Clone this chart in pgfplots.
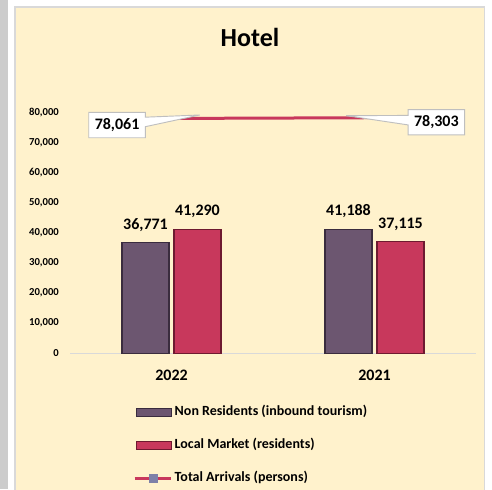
\documentclass[border=0pt]{standalone}
\usepackage{fontspec}
\setmainfont{Carlito}
\usepackage{pgfplots}
\usepackage{pgfplotstable}
\pgfplotsset{compat=1.18}
\usetikzlibrary{shapes.callouts}
\definecolor{bg}{HTML}{FFF2CC}
\definecolor{nonres}{HTML}{6C5670}
\definecolor{nonresd}{HTML}{3A2C3E}
\definecolor{local}{HTML}{C8385C}
\definecolor{locald}{HTML}{6E1A30}
\definecolor{frame}{HTML}{D9D9D9}
\definecolor{boxframe}{HTML}{BFBFBF}
\definecolor{stripgray}{HTML}{CCCCCC}
\definecolor{markc}{HTML}{7E80A8}

\pgfplotstableread{
x y
0 36771
1 41188
}\nonrestab
\pgfplotstableread{
x y
0 41290
1 37115
}\localtab
\pgfplotstableread{
x y dx dy ndx ndy
0 78061 -40.8 -5.0 40.8 5.0
1 78303 46.4 -3.4 -46.4 3.4
}\totaltab

\begin{document}
\begin{tikzpicture}
\useasboundingbox (0,0) rectangle (369pt,366.75pt);
\fill[white] (0,0) rectangle (369pt,366.75pt);
\fill[stripgray] (0,0) rectangle (6pt,366.75pt);
\filldraw[fill=bg, draw=frame, line width=1.1pt] (11.25pt,-3pt) rectangle (363.4pt,361.5pt);
\node[font=\bfseries\fontsize{19.5}{23}\selectfont] at (187.5pt,339pt) {Hotel};
\begin{axis}[
  at={(52.5pt,101.8pt)}, anchor=south west,
  width=304.5pt, height=180.5pt, scale only axis,
  xmin=-0.5, xmax=1.5, ymin=0, ymax=80000,
  axis x line*=bottom, axis y line*=left,
  x axis line style={draw=frame, line width=0.8pt, -},
  y axis line style={draw=none, -},
  xtick={0,1}, xticklabels={2022,2021},
  ytick={0,10000,...,80000},
  major tick length=0pt,
  xticklabel style={font=\bfseries\fontsize{12}{14}\selectfont, anchor=center, yshift=-16.3pt},
  yticklabel style={font=\bfseries\fontsize{8}{10}\selectfont, anchor=east, xshift=-4.8pt},
  /pgf/number format/1000 sep={,},
  /pgf/number format/assume math mode=true,
  scaled y ticks=false,
  clip=false,
  legend style={at={(axis description cs:0.1552,-0.382)}, anchor=west, draw=none, fill=none,
    inner sep=0pt, row sep=14.2pt,
    font=\bfseries\fontsize{10.5}{12}\selectfont,
    nodes={inner xsep=1.4pt, inner ysep=0pt, text height=8pt, text depth=2.5pt}},
  legend cell align=left,
]
\addplot[ybar, bar width=35.25pt, bar shift=-19.5pt, fill=nonres, draw=nonresd, line width=0.8pt,
  nodes near coords,
  every node near coord/.append style={font=\bfseries\fontsize{12}{14}\selectfont, anchor=south, inner sep=0pt, xshift=-19.5pt, yshift=8pt, text=black},
  legend image code/.code={\draw[fill=nonres, draw=nonresd, line width=0.6pt] (0pt,-2.8pt) rectangle (26.25pt,2.8pt);}
] table {\nonrestab};
\addlegendentry{Non Residents (inbound tourism)}
\addplot[ybar, bar width=35.25pt, bar shift=19.5pt, fill=local, draw=locald, line width=0.8pt,
  nodes near coords,
  every node near coord/.append style={font=\bfseries\fontsize{12}{14}\selectfont, anchor=south, inner sep=0pt, xshift=19.5pt, yshift=8pt, text=black},
  legend image code/.code={\draw[fill=local, draw=locald, line width=0.6pt] (0pt,-2.8pt) rectangle (26.25pt,2.8pt);}
] table {\localtab};
\addlegendentry{Local Market (residents)}
\addplot[local, line width=2.25pt, mark=none,
  visualization depends on={\thisrow{dx} \as \dx},
  visualization depends on={\thisrow{dy} \as \dy},
  visualization depends on={\thisrow{ndx} \as \ndx},
  visualization depends on={\thisrow{ndy} \as \ndy},
  nodes near coords,
  every node near coord/.append style={rectangle callout, anchor=center, xshift=\dx pt, yshift=\dy pt,
    callout relative pointer={(\ndx pt,\ndy pt)}, fill=white, draw=boxframe, line width=0.7pt,
    minimum width=42.5pt, minimum height=19pt, inner sep=0pt, text=black,
    font=\bfseries\fontsize{12}{14}\selectfont},
  legend image code/.code={\draw[local, line width=2.2pt] (-1pt,0pt) -- (26.5pt,0pt);
    \fill[markc] (10.8pt,-2.2pt) rectangle (15.6pt,2.2pt);}
] table[x=x, y=y] {\totaltab};
\addlegendentry{Total Arrivals (persons)}
\end{axis}
\end{tikzpicture}
\end{document}
